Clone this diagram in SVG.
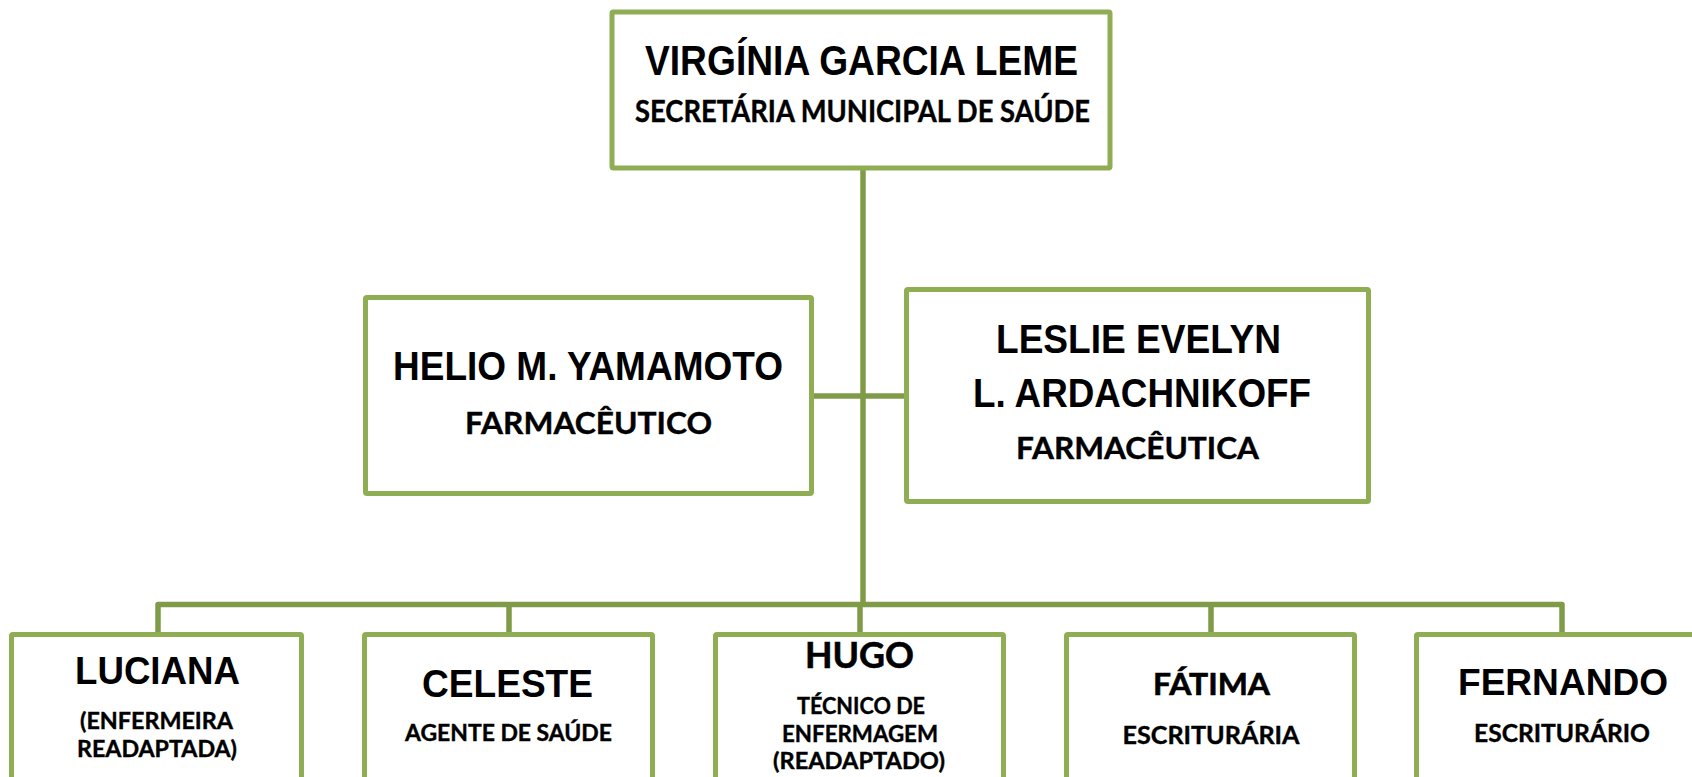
<svg xmlns="http://www.w3.org/2000/svg" width="1692" height="777" viewBox="0 0 1692 777">
<style>
.box{fill:#fff;stroke:#8fad53;stroke-width:5;stroke-linejoin:round}
.con{fill:none;stroke:#7f9b48;stroke-width:5.5;stroke-linejoin:round}
.nm{font-family:"Liberation Sans",Arial,sans-serif;font-weight:bold;fill:#000;text-anchor:middle}
.nc{font-family:Lato,"Open Sans",sans-serif;font-weight:bold;fill:#000;text-anchor:middle;stroke:#000;stroke-width:0.6}
.sb{font-family:Lato,"Open Sans",sans-serif;font-weight:bold;fill:#000;text-anchor:middle;stroke:#000;stroke-width:0.4}
</style>
<rect width="1692" height="777" fill="#fff"/>
<g id="connectors">
<path class="con" d="M863,168 V604.5"/>
<path class="con" d="M811,396 H906"/>
<path class="con" d="M158,634 V604.5 H1562 V634"/>
<path class="con" d="M509,604.5 V634 M860,604.5 V634 M1211,604.5 V634"/>
</g>
<g id="n-virginia">
<rect class="box" x="612" y="12" width="498" height="156" rx="1.5"/>
<text class="nm" x="861.5" y="75" font-size="42" textLength="433" lengthAdjust="spacingAndGlyphs">VIRGÍNIA GARCIA LEME</text>
<text class="sb" x="862.5" y="122" font-size="31" textLength="455" lengthAdjust="spacingAndGlyphs">SECRETÁRIA MUNICIPAL DE SAÚDE</text>
</g>
<g id="n-helio">
<rect class="box" x="365.5" y="297.5" width="446" height="196" rx="1.5"/>
<text class="nm" x="588" y="380" font-size="40" textLength="390" lengthAdjust="spacingAndGlyphs">HELIO M. YAMAMOTO</text>
<text class="sb" x="588.5" y="434" font-size="31" textLength="247" lengthAdjust="spacingAndGlyphs">FARMACÊUTICO</text>
</g>
<g id="n-leslie">
<rect class="box" x="906.5" y="289.5" width="462" height="212" rx="1.5"/>
<text class="nm" x="1138.5" y="353" font-size="40" textLength="285" lengthAdjust="spacingAndGlyphs">LESLIE EVELYN</text>
<text class="nm" x="1142" y="407" font-size="40" textLength="338" lengthAdjust="spacingAndGlyphs">L. ARDACHNIKOFF</text>
<text class="sb" x="1137.5" y="459" font-size="31" textLength="243" lengthAdjust="spacingAndGlyphs">FARMACÊUTICA</text>
</g>
<g id="n-luciana">
<rect class="box" x="11.5" y="634.5" width="290" height="260" rx="1.5"/>
<text class="nm" x="157.5" y="684" font-size="38" textLength="165" lengthAdjust="spacingAndGlyphs">LUCIANA</text>
<text class="sb" x="156.5" y="729" font-size="23" textLength="153" lengthAdjust="spacingAndGlyphs">(ENFERMEIRA</text>
<text class="sb" x="157" y="757" font-size="23" textLength="160" lengthAdjust="spacingAndGlyphs">READAPTADA)</text>
</g>
<g id="n-celeste">
<rect class="box" x="364.5" y="634.5" width="288" height="260" rx="1.5"/>
<text class="nm" x="507.5" y="697" font-size="38" textLength="171" lengthAdjust="spacingAndGlyphs">CELESTE</text>
<text class="sb" x="508.5" y="741" font-size="23" textLength="207" lengthAdjust="spacingAndGlyphs">AGENTE DE SAÚDE</text>
</g>
<g id="n-hugo">
<rect class="box" x="715.5" y="634.5" width="288" height="260" rx="1.5"/>
<text class="nc" x="859.5" y="668" font-size="36" textLength="109" lengthAdjust="spacingAndGlyphs">HUGO</text>
<text class="sb" x="861" y="714" font-size="23" textLength="128" lengthAdjust="spacingAndGlyphs">TÉCNICO DE</text>
<text class="sb" x="860" y="742" font-size="23" textLength="156" lengthAdjust="spacingAndGlyphs">ENFERMAGEM</text>
<text class="sb" x="859" y="769" font-size="23" textLength="172" lengthAdjust="spacingAndGlyphs">(READAPTADO)</text>
</g>
<g id="n-fatima">
<rect class="box" x="1066.5" y="634.5" width="288" height="260" rx="1.5"/>
<text class="nc" x="1211.5" y="695" font-size="30" textLength="117" lengthAdjust="spacingAndGlyphs">FÁTIMA</text>
<text class="sb" x="1211" y="744" font-size="25" textLength="177" lengthAdjust="spacingAndGlyphs">ESCRITURÁRIA</text>
</g>
<g id="n-fernando">
<rect class="box" x="1416.5" y="634.5" width="288" height="260" rx="1.5"/>
<text class="nm" x="1563" y="695" font-size="37" textLength="210" lengthAdjust="spacingAndGlyphs">FERNANDO</text>
<text class="sb" x="1562" y="742" font-size="24" textLength="176" lengthAdjust="spacingAndGlyphs">ESCRITURÁRIO</text>
</g>
</svg>
